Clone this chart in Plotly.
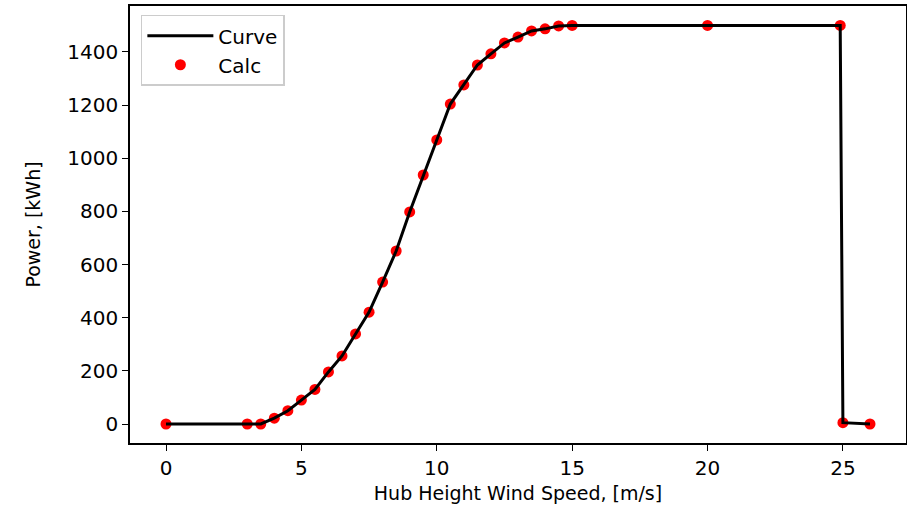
import plotly.graph_objects as go

# wind speed [m/s] and power [kWh]
speed = [0, 3, 3.5, 4, 4.5, 5, 5.5, 6, 6.5, 7, 7.5, 8, 8.5, 9, 9.5, 10, 10.5,
         11, 11.5, 12, 12.5, 13, 13.5, 14, 14.5, 15, 20, 24.9, 25.0, 26]
power = [0, 0, 0, 22, 50, 90, 130, 196, 256, 339, 421, 534, 651, 798, 937,
         1069, 1204, 1276, 1351, 1393, 1434, 1456, 1479, 1487, 1498, 1500,
         1500, 1500, 5, 0]

font = "DejaVu Sans, sans-serif"

fig = go.Figure()
fig.add_trace(go.Scatter(
    x=speed, y=power, mode="markers", name="Calc",
    marker=dict(color="red", size=11),
))
fig.add_trace(go.Scatter(
    x=speed, y=power, mode="lines", name="Curve",
    line=dict(color="black", width=3),
))

axis_style = dict(
    showgrid=False, zeroline=False, showline=True, mirror=True,
    linecolor="black", linewidth=1.5, ticks="outside", ticklen=6,
    tickcolor="black", automargin=False,
    tickfont=dict(size=20, color="black", family=font),
)

fig.update_layout(
    width=907, height=506,
    plot_bgcolor="white", paper_bgcolor="white",
    margin=dict(l=130, r=1, t=6, b=63, autoexpand=False),
    font=dict(family=font, color="black"),
    xaxis=dict(range=[-1.33, 27.33], tickvals=[0, 5, 10, 15, 20, 25],
               title=dict(text="Hub Height Wind Speed, [m/s]",
                          font=dict(size=19), standoff=8),
               **axis_style),
    yaxis=dict(range=[-71.5, 1573], tickvals=[0, 200, 400, 600, 800, 1000, 1200, 1400],
               title=dict(text="Power, [kWh]", font=dict(size=19), standoff=22),
               **axis_style),
    legend=dict(x=0.014, y=0.98, xanchor="left", yanchor="top",
                bordercolor="#cccccc", borderwidth=1.5, bgcolor="white",
                traceorder="reversed", itemwidth=66,
                font=dict(size=20, family=font)),
    showlegend=True,
)

# drop the default page margin so the figure sits at the window's corner
fig.write_html("out.html", config={"displayModeBar": False},
               post_script="document.body.style.margin='0';")
